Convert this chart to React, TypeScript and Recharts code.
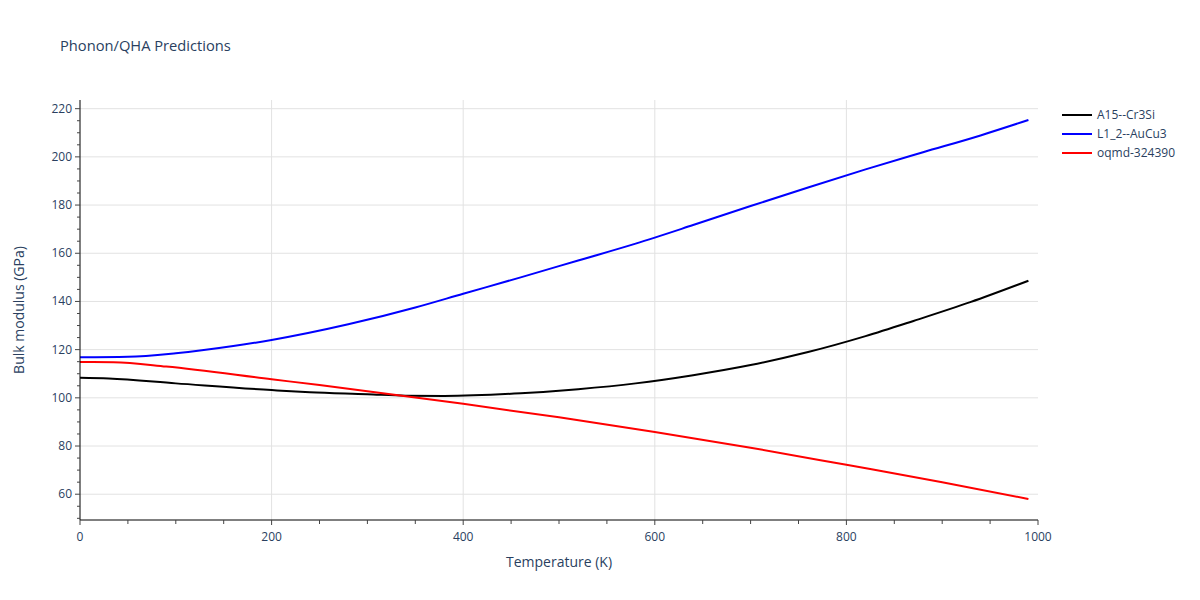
import { LineChart, Line, XAxis, YAxis, CartesianGrid } from "recharts";

// temperatures (K) and bulk modulus (GPa)
const tempA15 = [0, 30, 100, 200, 240, 300, 340, 380, 460, 520, 580, 640, 700, 760, 820, 870, 930, 990];
const bulkA15 = [108.3, 108, 106, 103.2, 102.3, 101.5, 100.9, 100.8, 101.9, 103.6, 106, 109.4, 113.6, 119, 125.6, 131.9, 139.8, 148.6];

const tempL12 = [0, 50, 100, 160, 200, 280, 350, 400, 460, 520, 580, 640, 700, 760, 820, 880, 940, 990];
const bulkL12 = [116.8, 117, 118.5, 121.5, 124, 130.5, 137.5, 143.2, 150, 157, 164, 171.7, 179.6, 187.3, 194.8, 201.9, 208.9, 215.3];

const tempOqmd = [0, 35, 90, 200, 250, 340, 400, 500, 600, 700, 800, 900, 990];
const bulkOqmd = [114.9, 114.8, 113, 107.7, 105.3, 100.7, 97.5, 91.9, 85.8, 79.3, 72.2, 65, 58];

const seriesNames = ["A15--Cr3Si", "L1_2--AuCu3", "oqmd-324390"];
const seriesColors = ["#000000", "#0000ff", "#ff0000"];

const xMajor = [0, 200, 400, 600, 800, 1000];
const yMajor = [60, 80, 100, 120, 140, 160, 180, 200, 220];

const xTicks: number[] = [];
for (let t = 0; t <= 1000; t += 50) xTicks.push(t);
const yTicks: number[] = [];
for (let v = 50; v <= 220; v += 5) yTicks.push(v);

const toPoints = (ts: number[], vs: number[]) => ts.map((t, i) => ({ t, v: vs[i] }));
const series = [
  toPoints(tempA15, bulkA15),
  toPoints(tempL12, bulkL12),
  toPoints(tempOqmd, bulkOqmd),
];

const textColor = "#2a3f5f";
const font = "'Open Sans', sans-serif";

document.body.style.margin = "0";

const YTick = (props: any) => {
  const { x, y, payload } = props;
  const major = yMajor.includes(payload.value);
  return (
    <g>
      <line x1={x - (major ? 5 : 3)} x2={x} y1={y} y2={y} stroke="#444" strokeWidth={1} />
      {major && (
        <text x={x - 8} y={y} dy={4} textAnchor="end" fontSize={12} fill={textColor} fontFamily={font}>
          {payload.value}
        </text>
      )}
    </g>
  );
};

const XTick = (props: any) => {
  const { x, y, payload } = props;
  const major = xMajor.includes(payload.value);
  return (
    <g>
      <line x1={x} x2={x} y1={y} y2={y + (major ? 5 : 4)} stroke="#444" strokeWidth={1} />
      {major && (
        <text x={x} y={y + 21} textAnchor="middle" fontSize={12} fill={textColor} fontFamily={font}>
          {payload.value}
        </text>
      )}
    </g>
  );
};

const LegendBox = () => (
  <div
    style={{
      position: "absolute",
      left: 1062,
      top: 105,
      fontFamily: font,
      fontSize: 12,
      color: textColor,
    }}
  >
    {seriesNames.map((name, i) => (
      <div key={name} style={{ display: "flex", alignItems: "center", height: 19 }}>
        <svg width={35} height={10}>
          <line x1={0} x2={30} y1={5} y2={5} stroke={seriesColors[i]} strokeWidth={2} />
        </svg>
        <span>{name}</span>
      </div>
    ))}
  </div>
);

export default function App() {
  return (
    <div style={{ position: "relative", width: 1200, height: 600, background: "#fff" }}>
      <div
        style={{
          position: "absolute",
          left: 60,
          top: 35,
          fontFamily: font,
          fontSize: 14.7,
          color: textColor,
        }}
      >
        Phonon/QHA Predictions
      </div>
      <LineChart width={1200} height={600} margin={{ top: 100, right: 162, bottom: 50, left: 30 }}>
        <CartesianGrid
          stroke="#e2e2e2"
          horizontalValues={yMajor}
          verticalValues={[200, 400, 600, 800]}
        />
        <XAxis
          dataKey="t"
          type="number"
          domain={[0, 1000]}
          ticks={xTicks}
          tick={<XTick />}
          tickLine={false}
          tickSize={0}
          tickMargin={0}
          height={30}
          stroke="#000"
          interval={0}
          allowDataOverflow
          label={{
            value: "Temperature (K)",
            position: "insideBottom",
            offset: -17,
            fill: textColor,
            fontSize: 14,
            fontFamily: font,
          }}
        />
        <YAxis
          type="number"
          domain={[49.3, 223.6]}
          ticks={yTicks}
          tick={<YTick />}
          tickLine={false}
          tickSize={0}
          tickMargin={0}
          width={50}
          stroke="#000"
          interval={0}
          allowDataOverflow
          label={{
            value: "Bulk modulus (GPa)",
            angle: -90,
            position: "center",
            dx: -36,
            fill: textColor,
            fontSize: 14,
            fontFamily: font,
          }}
        />
        {series.map((pts, i) => (
          <Line
            key={seriesNames[i]}
            data={pts}
            dataKey="v"
            name={seriesNames[i]}
            type="monotone"
            stroke={seriesColors[i]}
            strokeWidth={2}
            dot={false}
            isAnimationActive={false}
          />
        ))}
      </LineChart>
      <LegendBox />
    </div>
  );
}
